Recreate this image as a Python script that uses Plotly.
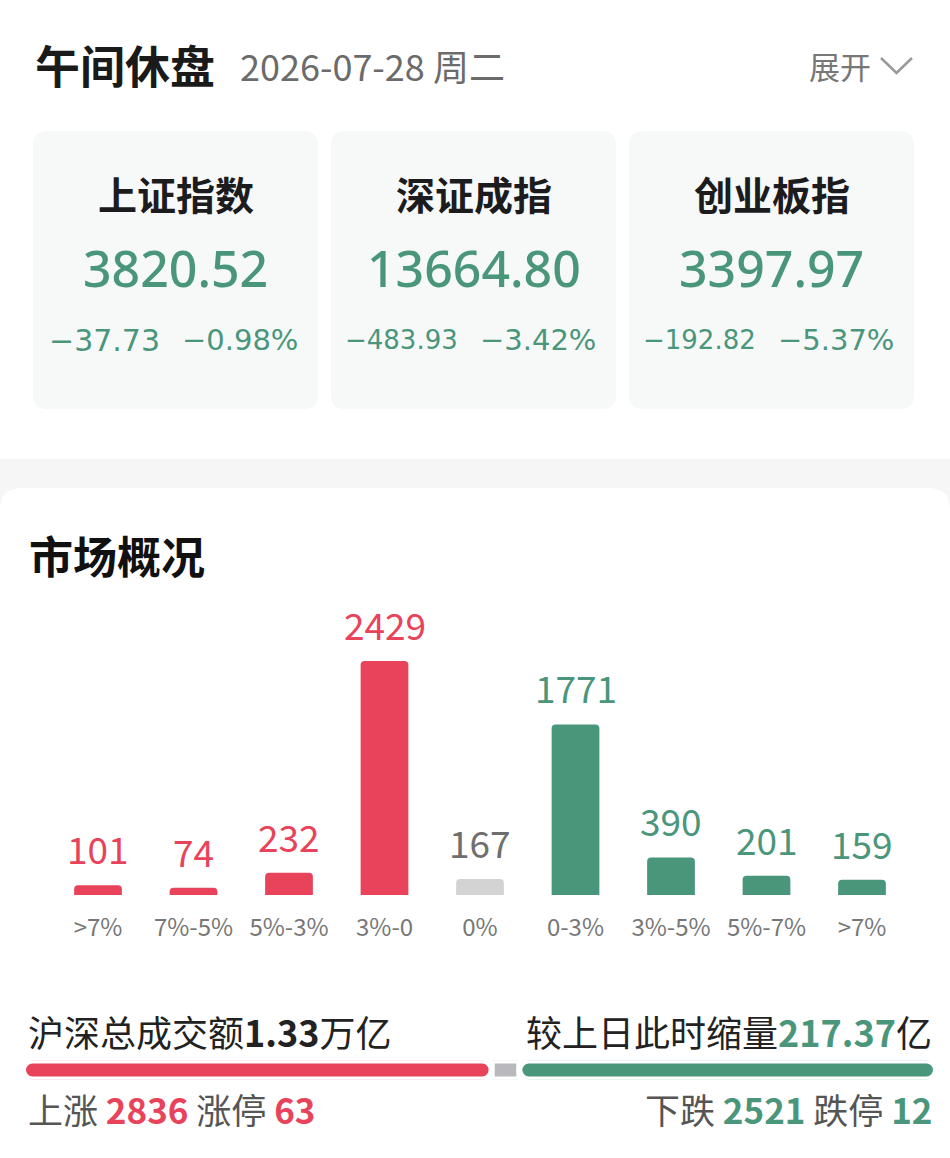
import plotly.graph_objects as go

W, H = 950, 1158
def px(p):
    return p / W
def py(p):
    return 1 - p / H

RED = "#e8435a"
GREEN = "#4a967b"
FLAT_BAR = "#d3d3d3"
FLAT_TXT = "#6e6e6e"
CJK = "Noto Sans CJK SC"

# ---------------- data ----------------
header_title = "午间休盘"
header_date = "2026-07-28 周二"
expand_label = "展开"

index_names = ["上证指数", "深证成指", "创业板指"]
index_values = ["3820.52", "13664.80", "3397.97"]
index_changes = ["−37.73", "−483.93", "−192.82"]
index_pcts = ["−0.98%", "−3.42%", "−5.37%"]

section_title = "市场概况"
bucket_labels = [">7%", "7%-5%", "5%-3%", "3%-0", "0%", "0-3%", "3%-5%", "5%-7%", ">7%"]
bucket_counts = [101, 74, 232, 2429, 167, 1771, 390, 201, 159]
bucket_side = ["up", "up", "up", "up", "flat", "down", "down", "down", "down"]

turnover_label = "沪深总成交额"
turnover_value = "1.33"
turnover_unit = "万亿"
compare_label = "较上日此时缩量"
compare_value = "217.37"
compare_unit = "亿"

rise_label = "上涨"
rise_count = 2836
limit_up_label = "涨停"
limit_up_count = 63
fall_label = "下跌"
fall_count = 2521
limit_down_label = "跌停"
limit_down_count = 12
flat_count = 167

# ---------------- styles ----------------
side_color = {"up": RED, "flat": FLAT_BAR, "down": GREEN}
side_text_color = {"up": RED, "flat": FLAT_TXT, "down": GREEN}
change_font_sizes = [30, 26, 26]
card_lefts = [33, 331, 629]
card_width = 285

fig = go.Figure()

# main distribution bars
fig.add_trace(go.Bar(
    x=list(range(len(bucket_counts))),
    y=bucket_counts,
    width=0.5,
    marker=dict(color=[side_color[s] for s in bucket_side], cornerradius=4, line=dict(width=0)),
    hoverinfo="skip",
    xaxis="x", yaxis="y",
))

# up / flat / down progress bar
total = rise_count + flat_count + fall_count
fig.add_trace(go.Bar(
    y=[0], x=[-rise_count], base=[rise_count], orientation="h", width=1,
    marker=dict(color=RED, cornerradius="50%", line=dict(color="white", width=6)),
    hoverinfo="skip", xaxis="x2", yaxis="y2",
))
fig.add_trace(go.Bar(
    y=[0], x=[flat_count], base=[rise_count], orientation="h", width=1,
    marker=dict(color="#b9b9bd", cornerradius=0, line=dict(color="white", width=6)),
    hoverinfo="skip", xaxis="x2", yaxis="y2",
))
fig.add_trace(go.Bar(
    y=[0], x=[fall_count], base=[rise_count + flat_count], orientation="h", width=1,
    marker=dict(color=GREEN, cornerradius="50%", line=dict(color="white", width=6)),
    hoverinfo="skip", xaxis="x2", yaxis="y2",
))

shapes = []
# separator band and lower panel
shapes.append(dict(type="rect", xref="paper", yref="paper", x0=0, x1=1, y0=py(520), y1=py(459),
                   fillcolor="#f6f6f6", line=dict(width=0), layer="below"))
def rounded_rect(x0, y0, x1, y1, r):
    return (f"M {px(x0+r)} {py(y0)} L {px(x1-r)} {py(y0)} Q {px(x1)} {py(y0)} {px(x1)} {py(y0+r)} "
            f"L {px(x1)} {py(y1-r)} Q {px(x1)} {py(y1)} {px(x1-r)} {py(y1)} "
            f"L {px(x0+r)} {py(y1)} Q {px(x0)} {py(y1)} {px(x0)} {py(y1-r)} "
            f"L {px(x0)} {py(y0+r)} Q {px(x0)} {py(y0)} {px(x0+r)} {py(y0)} Z")
shapes.append(dict(type="path", xref="paper", yref="paper", path=rounded_rect(0, 488, 950, 1200, 22),
                   fillcolor="white", line=dict(width=0), layer="below"))
for left in card_lefts:
    shapes.append(dict(type="path", xref="paper", yref="paper",
                       path=rounded_rect(left, 131, left + card_width, 409, 14),
                       fillcolor="#f7f9f9", line=dict(width=0), layer="below"))
# chevron
shapes.append(dict(type="path", xref="paper", yref="paper",
                   path=f"M {px(881)} {py(58)} L {px(896.5)} {py(73)} L {px(912)} {py(58)}",
                   line=dict(color="#9a9a9a", width=2.5)))

ann = []
def A(text, x, y, size, color, xanchor="left", family=CJK, weight=None, yanchor="middle"):
    f = dict(size=size, color=color, family=family)
    if weight:
        f["weight"] = weight
    ann.append(dict(text=text, x=px(x), y=py(y), xref="paper", yref="paper", xanchor=xanchor,
                    yanchor=yanchor, showarrow=False, font=f))

A(f"<b>{header_title}</b>", 33, 64, 45, "#1a1a1a")
A(header_date, 238, 65, 36, "#6b6b6b")
A(expand_label, 807, 65, 31, "#777777")

for i, left in enumerate(card_lefts):
    cx = left + card_width / 2
    A(f"<b>{index_names[i]}</b>", cx, 193, 39, "#1c1c1e", xanchor="center")
    A(index_values[i], cx, 268, 50, GREEN, xanchor="center", family="Noto Sans", weight=500)
    A(index_changes[i], cx - 14, 340, change_font_sizes[i], GREEN, xanchor="right", family="DejaVu Sans")
    A(index_pcts[i], cx + 4, 340, 29, GREEN, xanchor="left", family="DejaVu Sans")

A(f"<b>{section_title}</b>", 27, 555, 44, "#111111")

# bar value labels (data positioned)
for i, v in enumerate(bucket_counts):
    ann.append(dict(text=str(v), x=i, y=v, xref="x", yref="y", xanchor="center", yanchor="bottom",
                    yshift=8, showarrow=False,
                    font=dict(size=37, color=side_text_color[bucket_side[i]], family=CJK)))

A(f"{turnover_label}<b>{turnover_value}</b>{turnover_unit}", 26, 1031, 36, "#222222")
A(f"{compare_label}<b><span style='color:{GREEN}'>{compare_value}</span></b>{compare_unit}",
  934, 1031, 36, "#222222", xanchor="right")
A(f"{rise_label} <b><span style='color:{RED}'>{rise_count}</span></b> {limit_up_label} "
  f"<b><span style='color:{RED}'>{limit_up_count}</span></b>", 26, 1108, 35, "#555555")
A(f"{fall_label} <b><span style='color:{GREEN}'>{fall_count}</span></b> {limit_down_label} "
  f"<b><span style='color:{GREEN}'>{limit_down_count}</span></b>", 934, 1108, 35, "#555555",
  xanchor="right")

fig.update_layout(
    width=W, height=H,
    margin=dict(l=0, r=0, t=0, b=0),
    paper_bgcolor="white", plot_bgcolor="rgba(0,0,0,0)",
    showlegend=False, barmode="overlay",
    shapes=shapes, annotations=ann,
    xaxis=dict(domain=[px(50.25), px(909.75)], range=[-0.5, 8.5],
               tickmode="array", tickvals=list(range(len(bucket_labels))), ticktext=bucket_labels,
               tickfont=dict(size=24, color="#777777", family=CJK),
               showgrid=False, zeroline=False, showline=False, ticks="", ticklabelstandoff=16,
               fixedrange=True),
    yaxis=dict(domain=[py(895), py(644.6)], range=[0, 2600], visible=False, fixedrange=True),
    xaxis2=dict(domain=[px(23), px(936)], range=[0, total], visible=False, anchor="y2", fixedrange=True),
    yaxis2=dict(domain=[py(1079.5), py(1060.5)], range=[-0.5, 0.5], visible=False, anchor="x2",
                fixedrange=True),
)

fig.write_html("out.html")
